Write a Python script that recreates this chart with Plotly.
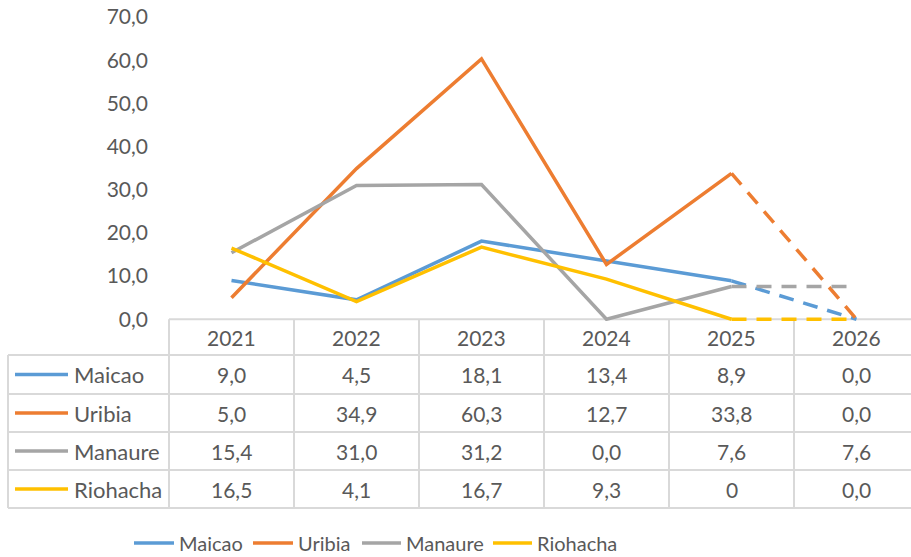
import plotly.graph_objects as go

# ---------------- data ----------------
years = ["2021", "2022", "2023", "2024", "2025", "2026"]
series_names = ["Maicao", "Uribia", "Manaure", "Riohacha"]
maicao = [9.0, 4.5, 18.1, 13.4, 8.9, 0.0]
uribia = [5.0, 34.9, 60.3, 12.7, 33.8, 0.0]
manaure = [15.4, 31.0, 31.2, 0.0, 7.6, 7.6]
riohacha = [16.5, 4.1, 16.7, 9.3, 0.0, 0.0]
table_maicao = ["9,0", "4,5", "18,1", "13,4", "8,9", "0,0"]
table_uribia = ["5,0", "34,9", "60,3", "12,7", "33,8", "0,0"]
table_manaure = ["15,4", "31,0", "31,2", "0,0", "7,6", "7,6"]
table_riohacha = ["16,5", "4,1", "16,7", "9,3", "0", "0,0"]
y_ticks = [0, 10, 20, 30, 40, 50, 60, 70]

# ---------------- style ----------------
colors = ["#5B9BD5", "#ED7D31", "#A5A5A5", "#FFC000"]
TXT = "#595959"
GRID = "#D9D9D9"
FONT = "Lato"
LW = 3.5
DASH = "15px,10px"

W_FIG, H_FIG = 911, 557
L, T, R, B = 169, 17, 0, 236
PW, PH = W_FIG - L - R, H_FIG - T - B
X0, X1 = -0.5, 5.436
Y0, Y1 = -0.4, 70.0


def xp(v):  # data x -> paper
    return (v - X0) / (X1 - X0)


def px2x(px):  # pixel -> paper x
    return (px - L) / PW


def py2y(py):  # pixel -> paper y
    return (T + PH - py) / PH


xs = list(range(len(years)))
all_series = [maicao, uribia, manaure, riohacha]
all_tables = [table_maicao, table_uribia, table_manaure, table_riohacha]

fig = go.Figure()
n_solid = len(years) - 1  # actual values up to 2025, projection to 2026 dashed
for name, vals, col in zip(series_names, all_series, colors):
    fig.add_trace(go.Scatter(x=xs[:n_solid], y=vals[:n_solid], mode="lines",
                             line=dict(color=col, width=LW), name=name,
                             showlegend=False, hoverinfo="skip"))
    fig.add_trace(go.Scatter(x=xs[n_solid - 1:], y=vals[n_solid - 1:], mode="lines",
                             line=dict(color=col, width=LW, dash=DASH), name=name,
                             showlegend=False, hoverinfo="skip"))

shapes = []
annotations = []
y_axis0 = (0 - Y0) / (Y1 - Y0)
row_edges = [355, 394, 432, 470, 508]
table_left = 8
grid_line = dict(color=GRID, width=2)
# horizontal lines
shapes.append(dict(type="line", xref="paper", yref="paper", x0=0, x1=xp(5.5),
                   y0=y_axis0, y1=y_axis0, line=grid_line, layer="below"))
for r in row_edges:
    shapes.append(dict(type="line", xref="paper", yref="paper", x0=px2x(table_left),
                       x1=xp(5.5), y0=py2y(r), y1=py2y(r), line=grid_line, layer="below"))
# vertical lines
shapes.append(dict(type="line", xref="paper", yref="paper", x0=px2x(table_left),
                   x1=px2x(table_left), y0=py2y(row_edges[0]), y1=py2y(row_edges[-1]),
                   line=grid_line, layer="below"))
for i in range(len(years) + 1):
    xv = xp(i - 0.5)
    shapes.append(dict(type="line", xref="paper", yref="paper", x0=xv, x1=xv,
                       y0=y_axis0, y1=py2y(row_edges[-1]), line=grid_line, layer="below"))

# header
for i, yr in enumerate(years):
    annotations.append(dict(x=i, xref="x", y=py2y(337), yref="paper", text=yr,
                            showarrow=False, font=dict(family=FONT, size=21, color=TXT),
                            xanchor="center", yanchor="middle"))
# rows
for k, (name, tab, col) in enumerate(zip(series_names, all_tables, colors)):
    yc = (row_edges[k] + row_edges[k + 1]) / 2
    shapes.append(dict(type="line", xref="paper", yref="paper", x0=px2x(15), x1=px2x(68),
                       y0=py2y(yc), y1=py2y(yc), line=dict(color=col, width=LW)))
    annotations.append(dict(x=px2x(72), xref="paper", y=py2y(yc), yref="paper", text=name,
                            showarrow=False, font=dict(family=FONT, size=22, color=TXT),
                            xanchor="left", yanchor="middle"))
    for i, t in enumerate(tab):
        annotations.append(dict(x=i, xref="x", y=py2y(yc), yref="paper", text=t,
                                showarrow=False, font=dict(family=FONT, size=21, color=TXT),
                                xanchor="center", yanchor="middle"))

# bottom legend
leg_y = 543
leg_lines = [(134, 174), (253, 293), (362, 401), (493, 532)]
for (a, b), name, col in zip(leg_lines, series_names, colors):
    shapes.append(dict(type="line", xref="paper", yref="paper", x0=px2x(a), x1=px2x(b),
                       y0=py2y(leg_y), y1=py2y(leg_y), line=dict(color=col, width=LW)))
    annotations.append(dict(x=px2x(b + 3), xref="paper", y=py2y(leg_y), yref="paper",
                            text=name, showarrow=False,
                            font=dict(family=FONT, size=20, color=TXT),
                            xanchor="left", yanchor="middle"))

fig.update_layout(
    width=W_FIG, height=H_FIG,
    margin=dict(l=L, r=R, t=T, b=B, pad=0),
    paper_bgcolor="white", plot_bgcolor="white",
    separators=",.",
    showlegend=False,
    xaxis=dict(range=[X0, X1], visible=False, fixedrange=True),
    yaxis=dict(range=[Y0, Y1], tickvals=y_ticks, tickformat=".1f",
               showgrid=False, zeroline=False, showline=False,
               ticks="", ticklabelstandoff=20, fixedrange=True,
               tickfont=dict(family=FONT, size=21, color=TXT)),
    shapes=shapes,
    annotations=annotations,
)

fig.write_html("out.html", config={"displayModeBar": False},
               post_script="document.body.style.margin='0';")
